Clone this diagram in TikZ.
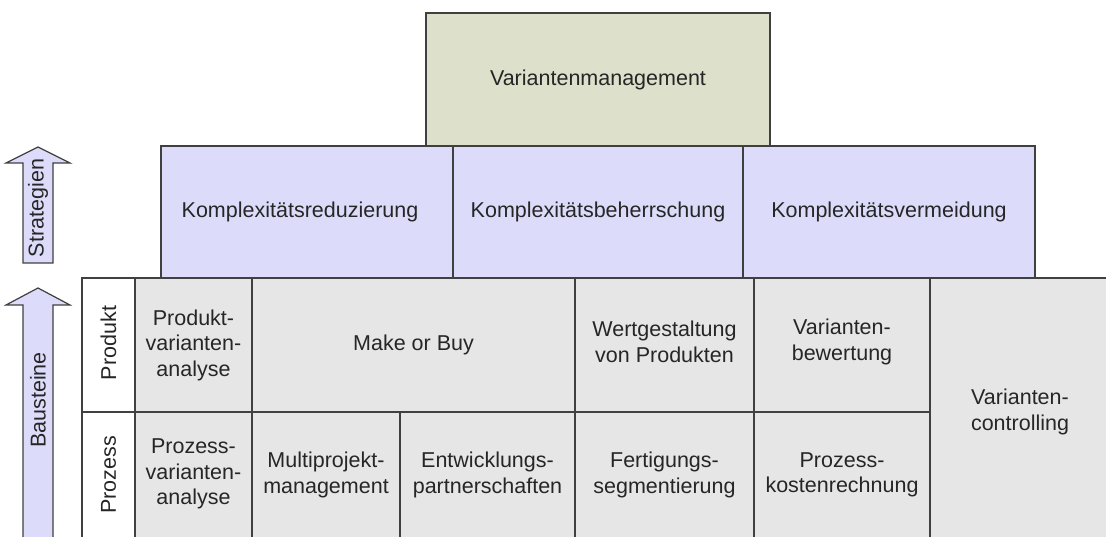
\documentclass[tikz,border=0pt]{standalone}
\usepackage{fontspec}
\setmainfont{Liberation Sans}
\definecolor{edge}{HTML}{404040}
\definecolor{topfill}{HTML}{DDE0CB}
\definecolor{stratfill}{HTML}{DCDCFA}
\definecolor{cellfill}{HTML}{E6E6E6}
\definecolor{txt}{HTML}{262626}
\begin{document}
\begin{tikzpicture}[x=1pt,y=-1pt,
  box/.style={draw=edge, line width=1.4pt, rectangle, inner sep=0pt, outer sep=0pt,
    align=center, text=txt, font=\fontsize{21.5}{25.5}\selectfont},
  topbox/.style={box, fill=topfill},
  stratbox/.style={box, fill=stratfill},
  cell/.style={box, fill=cellfill},
  rowlabel/.style={box, fill=white},
  lbl/.style={inner sep=0pt, align=center, text=txt, font=\fontsize{21.5}{25.5}\selectfont},
  bigarrow/.style={draw=edge, line width=1.2pt, fill=stratfill, line join=miter}
]
\useasboundingbox (0,0) rectangle (1106,537);
\clip (0,0) rectangle (1106,537);
\fill[white] (0,0) rectangle (1106,537);

% top level
\node[topbox, minimum width=344pt, minimum height=133pt] (vm) at (598,79.5) {Variantenmanagement};

% strategies
\node[stratbox, minimum width=292pt, minimum height=132pt] (kr) at (307,212) {};
\node[lbl] (krt) at (300,212) {Komplexitätsreduzierung};
\node[stratbox, minimum width=290pt, minimum height=132pt] (kb) at (598,212) {Komplexitätsbeherrschung};
\node[stratbox, minimum width=292pt, minimum height=132pt] (kv) at (889,212) {Komplexitätsvermeidung};

% row labels
\node[rowlabel, minimum width=53pt, minimum height=134pt] (prod) at (108.5,345) {};
\node[lbl, rotate=90] (prodt) at (108.5,343) {Produkt};
\node[rowlabel, minimum width=53pt, minimum height=128pt] (proz) at (108.5,476) {};
\node[lbl, rotate=90] (prozt) at (108.5,475) {Prozess};

% product building blocks
\node[cell, minimum width=117pt, minimum height=134pt] (pva) at (193.5,345) {Produkt-\\varianten-\\analyse};
\node[cell, minimum width=323pt, minimum height=134pt] (mob) at (413.5,345) {Make or Buy};
\node[cell, minimum width=179pt, minimum height=134pt] (wvp) at (664.5,345) {};
\node[lbl] (wvpt) at (664.5,342) {Wertgestaltung\\von Produkten};
\node[cell, minimum width=176pt, minimum height=134pt] (vb) at (842,345) {};
\node[lbl] (vbt) at (842,342) {Varianten-\\bewertung};

% controlling spans both rows
\node[cell, minimum width=180pt, minimum height=262pt] (vc) at (1020,409) {};
\node[lbl] (vct) at (1020,412) {Varianten-\\controlling};

% process building blocks
\node[cell, minimum width=117pt, minimum height=128pt] (pzva) at (193.5,476) {};
\node[lbl] (pzvat) at (193.5,474) {Prozess-\\varianten-\\analyse};
\node[cell, minimum width=148pt, minimum height=128pt] (mpm) at (326,476) {};
\node[lbl] (mpmt) at (326,475) {Multiprojekt-\\management};
\node[cell, minimum width=175pt, minimum height=128pt] (ep) at (487.5,476) {};
\node[lbl] (ept) at (487.5,475) {Entwicklungs-\\partnerschaften};
\node[cell, minimum width=179pt, minimum height=128pt] (fs) at (664.5,476) {};
\node[lbl] (fst) at (664.5,475) {Fertigungs-\\segmentierung};
\node[cell, minimum width=176pt, minimum height=128pt] (pkr) at (842,476) {};
\node[lbl] (pkrt) at (842,475) {Prozess-\\kostenrechnung};

% upward arrows on the left
\draw[bigarrow] (23,263) -- (23,163) -- (6,163) -- (38,147) -- (70,163) -- (53,163) -- (53,263) -- cycle;
\node[lbl, rotate=90] (strat) at (38,208) {Strategien};
\draw[bigarrow] (23,545) -- (23,305) -- (6,305) -- (38,288) -- (70,305) -- (53,305) -- (53,545) -- cycle;
\node[lbl, rotate=90] (baus) at (38,400) {Bausteine};
\end{tikzpicture}
\end{document}
